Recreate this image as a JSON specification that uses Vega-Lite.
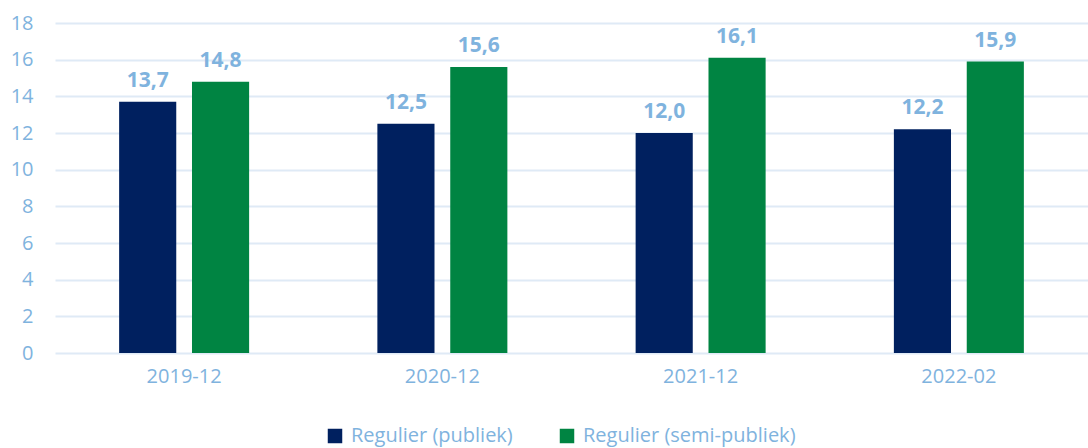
{
  "$schema": "https://vega.github.io/schema/vega-lite/v6.json",
  "width": 1033,
  "height": 330,
  "autosize": {"type": "none"},
  "padding": {"left": 55, "top": 23, "right": 0, "bottom": 95},
  "background": "white",
  "config": {
    "view": {"stroke": null},
    "font": "Open Sans",
    "locale": {"number": {"decimal": ",", "thousands": ".", "grouping": [3], "currency": ["€", ""]}}
  },
  "data": {
    "values": [
      {"periode": "2019-12", "type": "Regulier (publiek)", "waarde": 13.7},
      {"periode": "2019-12", "type": "Regulier (semi-publiek)", "waarde": 14.8},
      {"periode": "2020-12", "type": "Regulier (publiek)", "waarde": 12.5},
      {"periode": "2020-12", "type": "Regulier (semi-publiek)", "waarde": 15.6},
      {"periode": "2021-12", "type": "Regulier (publiek)", "waarde": 12.0},
      {"periode": "2021-12", "type": "Regulier (semi-publiek)", "waarde": 16.1},
      {"periode": "2022-02", "type": "Regulier (publiek)", "waarde": 12.2},
      {"periode": "2022-02", "type": "Regulier (semi-publiek)", "waarde": 15.9}
    ]
  },
  "encoding": {
    "x": {
      "field": "periode", "type": "nominal", "title": null,
      "scale": {"paddingInner": 0, "paddingOuter": 0},
      "axis": {"labelAngle": 0, "domain": false, "ticks": false, "labelColor": "#7fb3de", "labelFontSize": 20, "labelPadding": 13, "labelFont": "Open Sans"}
    },
    "xOffset": {"field": "type", "type": "nominal", "scale": {"paddingInner": 0.216, "paddingOuter": 0.88}},
    "y": {
      "field": "waarde", "type": "quantitative", "title": null,
      "scale": {"domain": [0, 18]},
      "axis": {"values": [0, 2, 4, 6, 8, 10, 12, 14, 16, 18], "domain": false, "ticks": false, "gridColor": "#dfeaf6", "gridWidth": 2, "labelColor": "#7fb3de", "labelFontSize": 20, "labelPadding": 22, "labelFont": "Open Sans"}
    }
  },
  "layer": [
    {
      "mark": {"type": "bar"},
      "encoding": {
        "color": {
          "field": "type", "type": "nominal",
          "scale": {"domain": ["Regulier (publiek)", "Regulier (semi-publiek)"], "range": ["#00205f", "#008442"]},
          "legend": {"title": null, "orient": "none", "direction": "horizontal", "legendX": 270, "legendY": 403, "symbolType": "square", "symbolSize": 210, "symbolStrokeWidth": 0, "symbolOpacity": 1, "labelFontSize": 20, "labelColor": "#7fb3de", "labelFont": "Open Sans", "labelLimit": 400, "columnPadding": 44, "symbolOffset": 0, "labelOffset": 6}
        }
      }
    },
    {
      "mark": {"type": "text", "baseline": "bottom", "dy": -11, "fontSize": 21, "fontWeight": "bold", "color": "#7fb3de", "font": "Open Sans"},
      "encoding": {
        "text": {"field": "waarde", "type": "quantitative", "format": ".1f"}
      }
    }
  ]
}
